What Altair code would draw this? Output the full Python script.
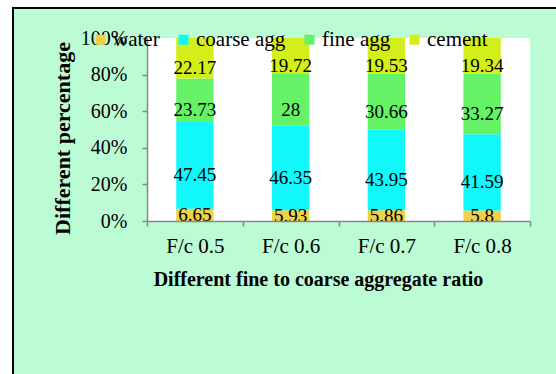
import altair as alt
import pandas as pd

# Mix proportions (%) for each fine-to-coarse aggregate ratio
categories = ["F/c 0.5", "F/c 0.6", "F/c 0.7", "F/c 0.8"]
components = ["water", "coarse agg", "fine agg", "cement"]
water = [6.65, 5.93, 5.86, 5.8]
coarse_agg = [47.45, 46.35, 43.95, 41.59]
fine_agg = [23.73, 28, 30.66, 33.27]
cement = [22.17, 19.72, 19.53, 19.34]
y_ticks = [0, 0.2, 0.4, 0.6, 0.8, 1.0]

colors = ["#EFD046", "#12F8FA", "#66F266", "#D3EE1A"]
FONT = "Liberation Serif"
PANEL = "#BBFCD5"

series = [water, coarse_agg, fine_agg, cement]
rows = []
for ci, cat in enumerate(categories):
    for si, name in enumerate(components):
        rows.append({"cat": cat, "component": name, "idx": si,
                     "value": series[si][ci], "lbl": str(series[si][ci])})
df = pd.DataFrame(rows)

W, H = 383, 183

base = alt.Chart(df).transform_stack(
    stack="value", groupby=["cat"], sort=[alt.SortField("idx")],
    as_=["y0", "y1"], offset="normalize",
).transform_calculate(mid="(datum.y0 + datum.y1) / 2")

x_axis = alt.Axis(labelAngle=0, tickBand="extent", labelPadding=9,
                  labelFontSize=21,
                  titleX=171, titleY=64, titleAlign="center",
                  titleBaseline="alphabetic", zindex=1)
y_axis = alt.Axis(values=y_ticks, format=".0%", labelPadding=15,
                  labelOverlap=False, labelFlush=False, labelBound=False,
                  titleFontSize=22, titleX=-78, titleY=100,
                  titleAlign="center", titleBaseline="alphabetic", zindex=1)
x_title = "Different fine to coarse aggregate ratio"
y_title = "Different percentage"
y_scale = alt.Scale(domain=[0, 1], nice=False)
x_scale = alt.Scale(paddingInner=0, paddingOuter=0)


def x_enc():
    return alt.X("cat:N", sort=categories, title=x_title, scale=x_scale,
                 axis=x_axis)


bars = base.mark_bar(width=alt.RelativeBandSize(0.39)).encode(
    x=x_enc(),
    y=alt.Y("y0:Q", scale=y_scale, title=y_title, axis=y_axis),
    y2="y1:Q",
    color=alt.Color("component:N",
                    scale=alt.Scale(domain=components, range=colors),
                    legend=alt.Legend(title=None, orient="none", legendX=-57,
                                      legendY=-9, direction="horizontal",
                                      columns=4, symbolType="square",
                                      symbolSize=100, symbolStrokeWidth=0,
                                      labelFont=FONT, labelFontSize=21,
                                      labelOffset=2, columnPadding=13,
                                      padding=0, zindex=1)),
)

# Value labels: the water share sits at its segment's middle, the upper
# segments carry their label a little below the middle
water_labels = base.transform_filter("datum.idx == 0").mark_text(
    font=FONT, fontSize=19, color="black", baseline="middle",
).encode(
    x=x_enc(),
    y=alt.Y("mid:Q", scale=y_scale, title=y_title, axis=y_axis),
    text="lbl:N",
)
upper_labels = base.transform_filter("datum.idx > 0").mark_text(
    font=FONT, fontSize=19, color="black", baseline="middle", dy=10,
).encode(
    x=x_enc(),
    y=alt.Y("mid:Q", scale=y_scale, title=y_title, axis=y_axis),
    text="lbl:N",
)

# Page margin outside the panel, and the panel's dark border
margin_left = alt.Chart(df).mark_rect(fill="white").encode(
    x=alt.value(-160), x2=alt.value(-134), y=alt.value(-60), y2=alt.value(H + 200),
)
margin_top = alt.Chart(df).mark_rect(fill="white").encode(
    x=alt.value(-160), x2=alt.value(W + 60), y=alt.value(-60), y2=alt.value(-30),
)
border = alt.Chart(df).mark_rect(fillOpacity=0, stroke="black",
                                 strokeWidth=2).encode(
    x=alt.value(-134), x2=alt.value(W + 60),
    y=alt.value(-30), y2=alt.value(H + 200),
)

chart = alt.layer(margin_left, margin_top, border, bars,
                  water_labels, upper_labels).properties(
    width=W, height=H,
    autosize=alt.AutoSizeParams(type="none"),
    padding={"left": 147, "top": 38, "right": 26, "bottom": 153},
    background=PANEL,
).configure_view(stroke=None, fill="white").configure_axis(
    labelFont=FONT, labelFontSize=20, labelColor="black",
    titleFont=FONT, titleFontSize=20, titleFontWeight="bold",
    titleColor="black", domainColor="#888888", tickColor="#888888",
    domainWidth=1.5, tickWidth=1.5, tickSize=5, grid=False,
)

chart.save("out.html", embed_options={"renderer": "svg", "actions": False})
